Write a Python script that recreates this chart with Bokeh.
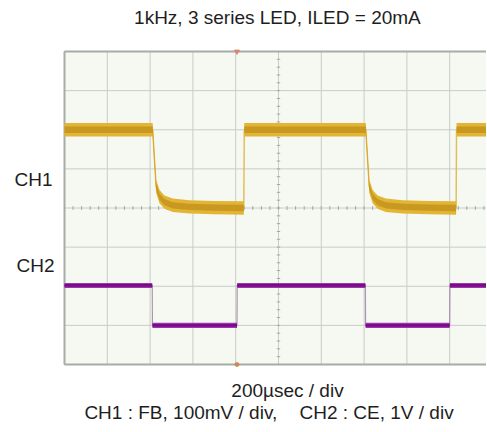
from bokeh.plotting import figure
from bokeh.models import Range1d, ColumnDataSource
from bokeh.core.properties import value
from bokeh.embed import file_html
from bokeh.resources import INLINE

# ---- texts ----
title_text = "1kHz, 3 series LED, ILED = 20mA"
timebase_text = "200\u00b5sec / div"
scale_text_parts = ["CH1 : FB, 100mV / div,", "CH2 : CE, 1V / div"]
channel_names = ["CH1", "CH2"]

# ---- scope settings ----
time_per_div_us = 200
ch1_mv_per_div = 100
ch2_v_per_div = 1
ch1_zero_div = 4.0     # CH1 ground marker (divisions from bottom)
ch2_zero_div = 1.0     # CH2 ground marker
trigger_us = 806

# ---- CH1 : FB (mV) ----
ch1_t_us = [0, 412, 428, 444, 467, 506, 584, 700, 838, 840,
            1408, 1424, 1440, 1463, 1502, 1580, 1700, 1830, 1832, 1972]
ch1_mv = [200, 200, 56, 29, 15, 7, 3, 1, 0, 200,
          200, 56, 29, 15, 7, 3, 1, 0, 200, 200]

# ---- CH2 : CE (V) ----
ch2_t_us = [0, 410, 411, 806, 807, 1406, 1407, 1800, 1801, 1972]
ch2_v = [1.02, 1.02, 0.0, 0.0, 1.02, 1.02, 0.0, 0.0, 1.02, 1.02]

n_div_x = 9.86
n_div_y = 8
x_end = n_div_x * time_per_div_us

ch1_div = [ch1_zero_div + v / ch1_mv_per_div for v in ch1_mv]
ch2_div = [ch2_zero_div + v / ch2_v_per_div for v in ch2_v]

W, H = 486, 428
left_px, top_px, frame_h = 64, 51, 313
px_per_div_x = (W - left_px) / n_div_x
px_per_div_y = frame_h / n_div_y
x0 = -left_px / px_per_div_x * time_per_div_us
y1 = n_div_y + top_px / px_per_div_y
y0 = -(H - top_px - frame_h) / px_per_div_y

p = figure(width=W, height=H, x_range=Range1d(x0, x_end), y_range=Range1d(y0, y1),
           output_backend="svg", toolbar_location=None,
           min_border_left=0, min_border_right=0, min_border_top=0, min_border_bottom=0)
p.xaxis.visible = False
p.yaxis.visible = False
p.grid.visible = False
p.background_fill_color = "white"
p.border_fill_color = "white"
p.outline_line_color = None

# scope screen
p.quad(left=[0], right=[x_end], bottom=[0], top=[n_div_y], fill_color="#f5f9f2", line_color=None)
xg = list(range(0, int(x_end) + 1, time_per_div_us))
yg = list(range(0, n_div_y + 1))
p.segment(x0=xg, y0=[0] * len(xg), x1=xg, y1=[n_div_y] * len(xg), line_color="#c8ccc8", line_width=1)
p.segment(x0=[0] * len(yg), y0=yg, x1=[x_end] * len(yg), y1=yg, line_color="#c8ccc8", line_width=1)
# frame edges
p.segment(x0=[0, 0, 0], y0=[0, 0, n_div_y], x1=[0, x_end, x_end], y1=[n_div_y, 0, n_div_y],
          line_color="#a8aca8", line_width=2)
# centre minor ticks
xm = [i * time_per_div_us / 5 for i in range(0, int(n_div_x * 5) + 1)]
ym = [i / 5 for i in range(0, n_div_y * 5 + 1)]
cx = 5 * time_per_div_us
cy = n_div_y / 2
p.segment(x0=xm, y0=[cy - 0.05] * len(xm), x1=xm, y1=[cy + 0.05] * len(xm),
          line_color="#a4a8a4", line_width=1)
p.segment(x0=[cx - 8] * len(ym), y0=ym, x1=[cx + 8] * len(ym), y1=ym,
          line_color="#a4a8a4", line_width=1)

# CH1 trace
s1 = ColumnDataSource(dict(t=ch1_t_us, y=ch1_div,
                           lo_o=[v - 0.17 for v in ch1_div], hi_o=[v + 0.17 for v in ch1_div],
                           lo_i=[v - 0.08 for v in ch1_div], hi_i=[v + 0.08 for v in ch1_div]))
p.line("t", "y", source=s1, line_color="#dcb43c", line_width=1.5, line_alpha=0.8)
p.varea(x="t", y1="lo_o", y2="hi_o", source=s1, fill_color="#e2b535")
p.varea(x="t", y1="lo_i", y2="hi_i", source=s1, fill_color="#c99820")

# CH2 trace
s2 = ColumnDataSource(dict(t=ch2_t_us, y=ch2_div,
                           lo_o=[v - 0.065 for v in ch2_div], hi_o=[v + 0.065 for v in ch2_div],
                           lo_i=[v - 0.035 for v in ch2_div], hi_i=[v + 0.035 for v in ch2_div]))
p.line("t", "y", source=s2, line_color="#9a7aa0", line_width=1.2, line_alpha=0.8)
p.varea(x="t", y1="lo_o", y2="hi_o", source=s2, fill_color="#9a3aa8")
p.varea(x="t", y1="lo_i", y2="hi_i", source=s2, fill_color="#7c0a8c")

# trigger markers
p.scatter(x=[trigger_us], y=[n_div_y], marker="inverted_triangle", size=5,
          color="#e07a6a", alpha=0.8)
p.scatter(x=[trigger_us], y=[0], marker="circle", size=4, color="#d08040", alpha=0.8)

# texts
font = value("Liberation Sans")
fs = value("19px")
col = "#1e1e1e"
p.text(x=[995, 1042], y=[8.87, -0.66],
       text=[title_text, timebase_text],
       text_align="center", text_baseline="middle", text_font=font,
       text_font_size=fs, text_color=col)
p.text(x=[93, 1098], y=[-1.22, -1.22], text=scale_text_parts,
       text_align="left", text_baseline="middle", text_font=font,
       text_font_size=fs, text_color=col)
p.text(x=[-56, -47], y=[4.73, 2.53], text=channel_names,
       text_align="right", text_baseline="middle", text_font=font,
       text_font_size=fs, text_color=col)

open("out.html", "w").write(file_html(p, INLINE))
